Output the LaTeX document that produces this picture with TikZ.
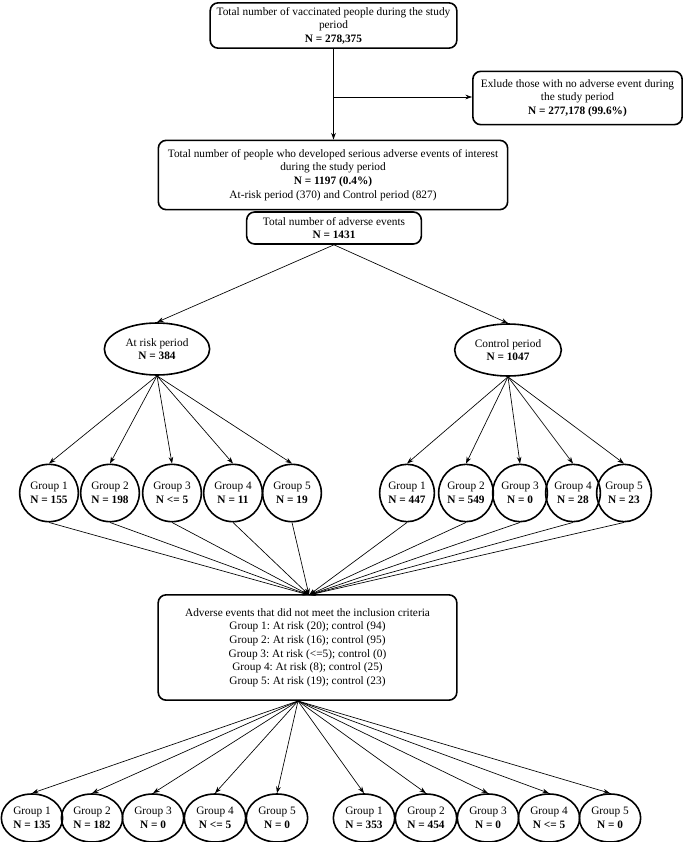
\documentclass[tikz,border=0pt]{standalone}
\usepackage{fontspec}
\setmainfont{Liberation Serif}
\usetikzlibrary{arrows.meta,shapes.geometric}
\frenchspacing
\begin{document}
\begin{tikzpicture}[x=0.75pt,y=-0.75pt,
    every node/.style={font=\fontsize{8.5}{10.2}\selectfont, align=center},
    box/.style={draw, line width=1.2pt, rounded corners=6pt, inner sep=1pt},
    oval/.style={draw, ellipse, line width=1.2pt, inner sep=0pt},
    grpa/.style={oval, minimum width=44pt, minimum height=43pt},
    grpc/.style={oval, minimum width=41pt, minimum height=43pt},
    grpb/.style={oval, minimum width=46pt, minimum height=36pt},
    arr/.style={-{Stealth[length=5pt,width=3.5pt]}, line width=0.5pt}]
    \useasboundingbox (0,0) rectangle (685,842);
    \node[box, minimum width=185pt, minimum height=34pt] (total) at (333.5,25.5) {Total number of vaccinated people during the study\\period\\\textbf{N = 278,375}};
    \node[box, minimum width=157pt, minimum height=40pt] (excl) at (577.5,98) {Exlude those with no adverse event during\\the study period\\\textbf{N = 277,178 (99.6\%)}};
    \node[box, minimum width=262pt, minimum height=52pt] (sae) at (333,175) {Total number of people who developed serious adverse events of interest\\during the study period\\\textbf{N = 1197 (0.4\%)}\\At-risk period (370) and Control period (827)};
    \node[box, minimum width=131pt, minimum height=24pt] (events) at (334,228) {Total number of adverse events\\\textbf{N = 1431}};
    \coordinate (branch) at (333,97);
    \draw[arr] (total.south) -- (total.south |- sae.north);
    \draw[arr] (branch) -- (branch -| excl.west);
    \node[oval, minimum width=79pt, minimum height=39pt] (risk) at (157,349) {At risk period\\\textbf{N = 384}};
    \node[oval, minimum width=80pt, minimum height=39pt] (ctrl) at (508,350) {Control period\\\textbf{N = 1047}};
    \draw[arr] (events.south) -- (risk.north);
    \draw[arr] (events.south) -- (ctrl.north);
    \node[grpa] (ra1) at (49,493) {Group 1\\\textbf{N = 155}};
    \node[grpa] (ra2) at (110,493) {Group 2\\\textbf{N = 198}};
    \node[grpa] (ra3) at (172,493) {Group 3\\\textbf{N <= 5}};
    \node[grpa] (ra4) at (233,493) {Group 4\\\textbf{N = 11}};
    \node[grpa] (ra5) at (292,493) {Group 5\\\textbf{N = 19}};
    \node[grpc] (ca1) at (407,493) {Group 1\\\textbf{N = 447}};
    \node[grpc] (ca2) at (466,493) {Group 2\\\textbf{N = 549}};
    \node[grpc] (ca3) at (520,493) {Group 3\\\textbf{N = 0}};
    \node[grpc] (ca4) at (573,493) {Group 4\\\textbf{N = 28}};
    \node[grpc] (ca5) at (624,493) {Group 5\\\textbf{N = 23}};
    \draw[arr] (risk.south) -- (ra1.north);
    \draw[arr] (risk.south) -- (ra2.north);
    \draw[arr] (risk.south) -- (ra3.north);
    \draw[arr] (risk.south) -- (ra4.north);
    \draw[arr] (risk.south) -- (ra5.north);
    \draw[arr] (ctrl.south) -- (ca1.north);
    \draw[arr] (ctrl.south) -- (ca2.north);
    \draw[arr] (ctrl.south) -- (ca3.north);
    \draw[arr] (ctrl.south) -- (ca4.north);
    \draw[arr] (ctrl.south) -- (ca5.north);
    \node[box, minimum width=224pt, minimum height=79pt] (crit) at (307.5,647.5) {Adverse events that did not meet the inclusion criteria\\Group 1: At risk (20); control (94)\\Group 2: At risk (16); control (95)\\Group 3: At risk (<=5); control (0)\\Group 4: At risk (8); control (25)\\Group 5: At risk (19); control (23)};
    \coordinate (conv) at (309,595);
    \coordinate (src) at (298,701);
    \draw[arr] (ra1.south) -- (conv);
    \draw[arr] (ra2.south) -- (conv);
    \draw[arr] (ra3.south) -- (conv);
    \draw[arr] (ra4.south) -- (conv);
    \draw[arr] (ra5.south) -- (conv);
    \draw[arr] (ca1.south) -- (conv);
    \draw[arr] (ca2.south) -- (conv);
    \draw[arr] (ca3.south) -- (conv);
    \draw[arr] (ca4.south) -- (conv);
    \draw[arr] (ca5.south) -- (conv);
    \node[grpb] (rb1) at (32,818) {Group 1\\\textbf{N = 135}};
    \node[grpb] (rb2) at (92,818) {Group 2\\\textbf{N = 182}};
    \node[grpb] (rb3) at (153,818) {Group 3\\\textbf{N = 0}};
    \node[grpb] (rb4) at (215,818) {Group 4\\\textbf{N <= 5}};
    \node[grpb] (rb5) at (277,818) {Group 5\\\textbf{N = 0}};
    \node[grpb] (cb1) at (364,818) {Group 1\\\textbf{N = 353}};
    \node[grpb] (cb2) at (426,818) {Group 2\\\textbf{N = 454}};
    \node[grpb] (cb3) at (488,818) {Group 3\\\textbf{N = 0}};
    \node[grpb] (cb4) at (549,818) {Group 4\\\textbf{N <= 5}};
    \node[grpb] (cb5) at (610,818) {Group 5\\\textbf{N = 0}};
    \draw[arr] (src) -- (rb1.north);
    \draw[arr] (src) -- (rb2.north);
    \draw[arr] (src) -- (rb3.north);
    \draw[arr] (src) -- (rb4.north);
    \draw[arr] (src) -- (rb5.north);
    \draw[arr] (src) -- (cb1.north);
    \draw[arr] (src) -- (cb2.north);
    \draw[arr] (src) -- (cb3.north);
    \draw[arr] (src) -- (cb4.north);
    \draw[arr] (src) -- (cb5.north);
  \end{tikzpicture}
\end{document}
